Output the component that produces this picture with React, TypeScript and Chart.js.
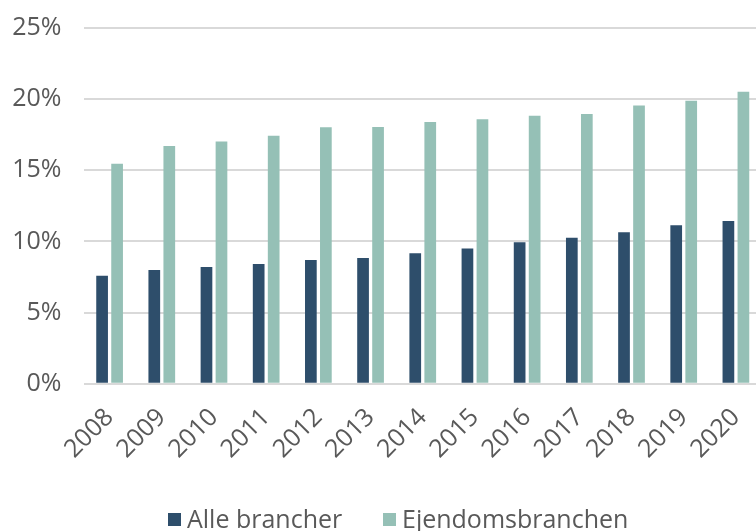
import React, { useEffect, useRef } from 'react';
import { Chart, registerables } from 'chart.js';

Chart.register(...registerables);

const categories = ['2008', '2009', '2010', '2011', '2012', '2013', '2014', '2015', '2016', '2017', '2018', '2019', '2020'];
const alleBrancher = [7.58, 7.99, 8.2, 8.41, 8.69, 8.83, 9.16, 9.51, 9.94, 10.26, 10.64, 11.13, 11.43];
const ejendomsbranchen = [15.46, 16.7, 17.03, 17.43, 18.02, 18.04, 18.39, 18.58, 18.83, 18.95, 19.56, 19.88, 20.52];
const yTicks = [0, 5, 10, 15, 20, 25];
const seriesLabels = ['Alle brancher', 'Ejendomsbranchen'];
const seriesColors = ['#2e4e6b', '#95c0b6'];
const legendLefts = [168, 383];

const FONT = "'Open Sans', sans-serif";
const TEXT = '#595959';
const FONT_SIZE = 25;

export default function App() {
  const ref = useRef<HTMLCanvasElement | null>(null);

  useEffect(() => {
    if (!ref.current) return;
    const chart = new Chart(ref.current, {
      type: 'bar',
      data: {
        labels: categories,
        datasets: [
          {
            label: seriesLabels[0],
            data: alleBrancher,
            backgroundColor: seriesColors[0],
            categoryPercentage: 0.575,
            barPercentage: 0.78,
          },
          {
            label: seriesLabels[1],
            data: ejendomsbranchen,
            backgroundColor: seriesColors[1],
            categoryPercentage: 0.575,
            barPercentage: 0.78,
          },
        ],
      },
      options: {
        responsive: false,
        animation: false,
        layout: { padding: { top: 28, left: 0, right: 0, bottom: 0 } },
        plugins: {
          legend: { display: false },
          tooltip: { enabled: false },
        },
        scales: {
          x: {
            grid: { display: false, drawTicks: false },
            border: { display: false },
            ticks: {
              minRotation: 45,
              maxRotation: 45,
              padding: 19,
              color: TEXT,
              font: { family: FONT, size: FONT_SIZE },
            },
            afterFit: (s: any) => {
              s.height = 147.3;
              s.paddingLeft = 0;
              s.paddingRight = 0;
              s.paddingTop = 0;
              s.paddingBottom = 0;
            },
          },
          y: {
            min: 0,
            max: 25,
            afterBuildTicks: (scale: any) => {
              scale.ticks = yTicks.map((v) => ({ value: v }));
            },
            ticks: {
              padding: 22,
              color: TEXT,
              font: { family: FONT, size: FONT_SIZE },
              callback: (v: any) => v + '%',
            },
            grid: { color: '#d9d9d9', lineWidth: 2, drawTicks: false },
            border: { display: false },
            afterFit: (s: any) => {
              s.width = 83.5;
              s.paddingLeft = 0;
              s.paddingRight = 0;
              s.paddingTop = 0;
              s.paddingBottom = 0;
            },
          },
        },
      },
    });
    return () => chart.destroy();
  }, []);

  return (
    <div
      style={{
        position: 'fixed',
        left: 0,
        top: 0,
        width: 756,
        height: 531,
        overflow: 'hidden',
        background: '#fff',
      }}
    >
      <canvas ref={ref} width={762} height={531} style={{ display: 'block' }} />
      {seriesLabels.map((label, i) => (
        <div
          key={label}
          style={{
            position: 'absolute',
            left: legendLefts[i],
            top: 501,
            display: 'flex',
            alignItems: 'center',
            fontFamily: FONT,
            fontSize: FONT_SIZE,
            color: TEXT,
            whiteSpace: 'nowrap',
          }}
        >
          <span
            style={{
              display: 'inline-block',
              width: 13,
              height: 13,
              background: seriesColors[i],
              marginRight: 6,
              marginTop: 3,
            }}
          />
          <span>{label}</span>
        </div>
      ))}
    </div>
  );
}
